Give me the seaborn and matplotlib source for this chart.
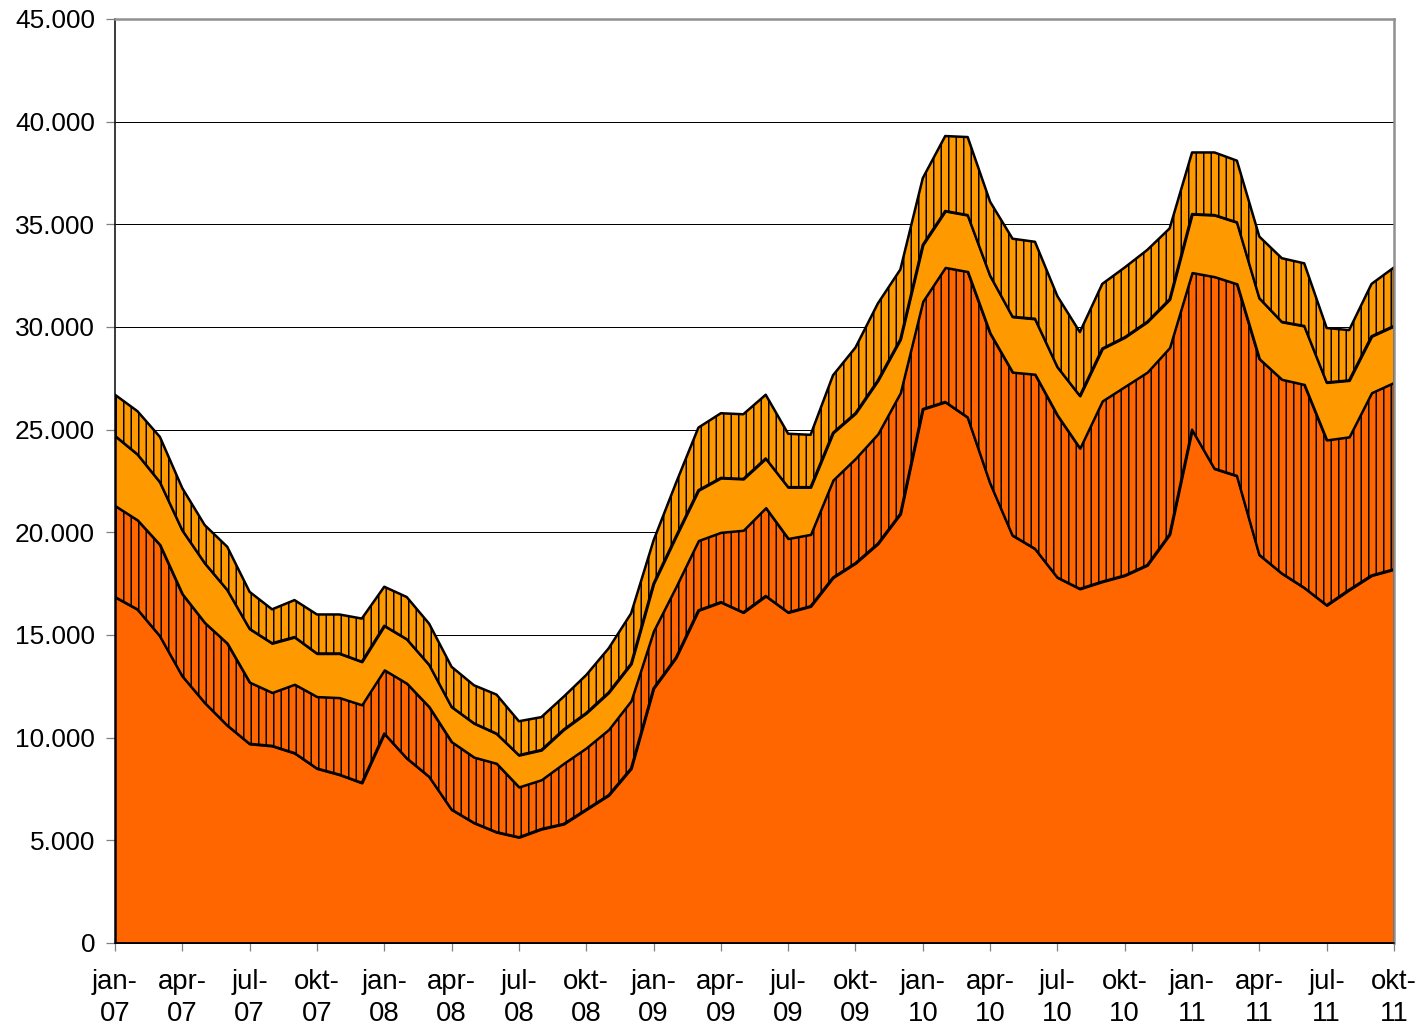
import numpy as np
import seaborn as sns
import matplotlib
matplotlib.use("Agg")
import matplotlib.pyplot as plt

# months jan-07 .. okt-11
months = ["jan", "feb", "mar", "apr", "mai", "jun", "jul", "aug", "sep", "okt", "nov", "des"]
periods = [f"{months[i % 12]}-{7 + i // 12:02d}" for i in range(58)]

# stacked layers, bottom to top
layer_a = [16850, 16250, 14950, 13000, 11700, 10600, 9700, 9600, 9250, 8500, 8200, 7800,
           10200, 9000, 8100, 6500, 5850, 5400, 5150, 5550, 5800, 6500, 7200, 8500,
           12400, 13900, 16200, 16600, 16100, 16900, 16100, 16400, 17800, 18500, 19450, 20900,
           26000, 26350, 25600, 22400, 19850, 19200, 17800, 17250, 17600, 17900, 18400, 19900,
           25000, 23100, 22750, 18900, 18000, 17300, 16450, 17200, 17900, 18200]
layer_b = [4450, 4350, 4450, 4000, 3900, 4000, 3000, 2600, 3350, 3500, 3750, 3800,
           3100, 3650, 3400, 3300, 3200, 3350, 2450, 2400, 2950, 3000, 3200, 3300,
           2800, 3450, 3400, 3400, 4000, 4300, 3600, 3500, 4750, 5100, 5350, 5900,
           5250, 6550, 7100, 7300, 7950, 8500, 7900, 6850, 8800, 9200, 9400, 9100,
           7650, 9350, 9350, 9550, 9450, 9900, 8050, 7450, 8900, 9100]
layer_c = [3400, 3200, 3050, 3100, 2900, 2600, 2600, 2400, 2300, 2100, 2150, 2100,
           2150, 2150, 2050, 1700, 1650, 1450, 1550, 1450, 1650, 1700, 1800, 1800,
           2300, 2450, 2450, 2650, 2500, 2400, 2500, 2300, 2300, 2200, 2600, 2600,
           2750, 2750, 2750, 2800, 2700, 2700, 2350, 2550, 2550, 2400, 2450, 2350,
           2850, 3000, 3000, 2950, 2800, 2850, 2800, 2750, 2750, 2750]
layer_d = [2000, 2100, 2200, 2050, 1850, 2100, 1800, 1650, 1800, 1900, 1900, 2100,
           1900, 2050, 2000, 1950, 1850, 1900, 1650, 1600, 1600, 1850, 2150, 2450,
           2100, 2600, 3050, 3150, 3150, 3100, 2600, 2550, 2800, 3200, 3750, 3400,
           3250, 3650, 3800, 3600, 3800, 3750, 3450, 3100, 3150, 3400, 3500, 3450,
           3000, 3050, 3000, 3000, 3100, 3050, 2650, 2450, 2550, 2850]

layer_colors = ["#FF6600", "#FF6600", "#FF9900", "#FF9900"]
layer_hatches = [None, "||", None, "||"]

y_ticks = [0, 5000, 10000, 15000, 20000, 25000, 30000, 35000, 40000, 45000]
y_labels = ["0", "5.000", "10.000", "15.000", "20.000", "25.000", "30.000", "35.000", "40.000", "45.000"]

sns.set_theme(style="white")
plt.rcParams["font.family"] = ["Liberation Sans", "DejaVu Sans"]
plt.rcParams["hatch.linewidth"] = 1.2

dpi = 90
fig = plt.figure(figsize=(1418 / dpi, 1029 / dpi), dpi=dpi)
ax = fig.add_axes([115 / 1418, 1 - 943 / 1029, (1394 - 115) / 1418, (943 - 19) / 1029])

x = np.arange(len(periods))
polys = ax.stackplot(x, layer_a, layer_b, layer_c, layer_d, colors=layer_colors,
                     edgecolor="black", linewidth=2.0, zorder=3)
for p, h in zip(polys, layer_hatches):
    if h:
        p.set_hatch(h)

ax.set_xlim(0, len(periods) - 1)
ax.set_ylim(0, 45000)

# gridlines
ax.set_yticks(y_ticks)
ax.set_yticklabels(y_labels, fontsize=21, color="black")
ax.yaxis.grid(True, color="black", linewidth=0.8, zorder=0)
ax.xaxis.grid(False)

tick_pos = x[::3]
ax.set_xticks(tick_pos)
ax.set_xticklabels([periods[i].replace("-", "-\n") for i in tick_pos], fontsize=22,
                   color="black", linespacing=1.3)

ax.tick_params(axis="y", direction="out", length=7, width=1, color="#808080", pad=9, left=True)
ax.tick_params(axis="x", direction="out", length=6, width=1, color="#808080", pad=15, bottom=True)

for side in ["left", "bottom"]:
    ax.spines[side].set_color("black")
    ax.spines[side].set_linewidth(1.2)
for side in ["top", "right"]:
    ax.spines[side].set_color("#909090")
    ax.spines[side].set_linewidth(2)
for s in ax.spines.values():
    s.set_zorder(5)

fig.savefig("out.png", dpi=dpi, facecolor="white")
